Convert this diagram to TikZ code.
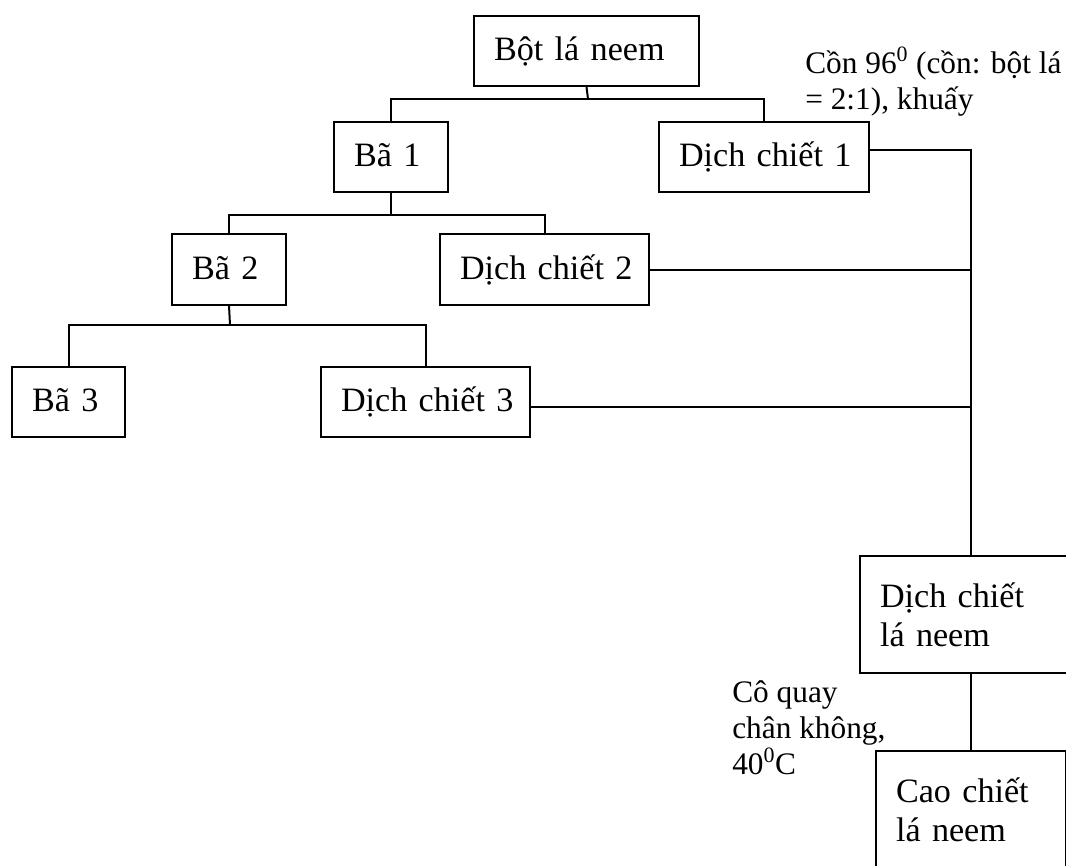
\documentclass[tikz,border=0pt]{standalone}
\usepackage{fontspec}
\setmainfont{Liberation Serif}

\begin{document}
\begin{tikzpicture}[x=0.75pt,y=-0.75pt,
    frame/.style={draw,line width=1.5pt,inner xsep=15pt,inner ysep=0pt,align=left,font=\fontsize{25.6}{29.5}\selectfont},
    box/.style={frame,text width=#1,minimum height=52.5pt,text height=19pt,text depth=4pt},
    bigbox/.style={frame,text width=#1,minimum height=87.75pt},
    note/.style={inner sep=0pt,align=left,anchor=north west,font=\fontsize{23.5}{27}\selectfont},
    link/.style={line width=1.5pt}]
        \path[use as bounding box,clip](0,0)rectangle(1066,866);

        % extraction tree
        \node[box=138.75pt](bot)at(586.5,51){Bột~lá~neem};
        \node[box=55.5pt](ba1)at(391,157){Bã~1};
        \node[box=127.5pt](dc1)at(764,157){Dịch~chiết~1};
        \node[box=55.5pt](ba2)at(229,269.5){Bã~2};
        \node[box=126.75pt](dc2)at(544.5,269.5){Dịch~chiết~2};
        \node[box=54.75pt](ba3)at(68.5,401.5){Bã~3};
        \node[box=126.75pt](dc3)at(425.5,401.5){Dịch~chiết~3};
        \node[bigbox=136.5pt](dcl)at(971,614.5){Dịch chiết\\lá neem};
        \node[bigbox=112.5pt](cao)at(971,809.5){Cao chiết\\lá neem};

        \coordinate(j1)at(588,99);
        \coordinate(j2)at(391,215);
        \coordinate(j3)at(230,325);

        \draw[link](bot.south)--(j1);
        \draw[link](ba1.north)|-(j1)-|(dc1.north);
        \draw[link](ba1.south)--(j2);
        \draw[link](ba2.north)|-(j2)-|(dc2.north);
        \draw[link](ba2.south)--(j3);
        \draw[link](ba3.north)|-(j3)-|(dc3.north);

        % collecting the extracts
        \draw[link](dcl.north)|-([yshift=5pt]dc1.east);
        \draw[link](dc2.east)--(dc2.east-|dcl.north);
        \draw[link]([yshift=-4pt]dc3.east)coordinate(e3)--(e3-|dcl.north);
        \draw[link](dcl.south)--(cao.north);

        \node[note](con)at(805,47){Cồn 96\textsuperscript{0} (cồn: bột lá\\= 2:1), khuấy};
        \node[note](quay)at(732,680){Cô quay\\chân không,\\40\textsuperscript{0}C};
    \end{tikzpicture}
\end{document}
